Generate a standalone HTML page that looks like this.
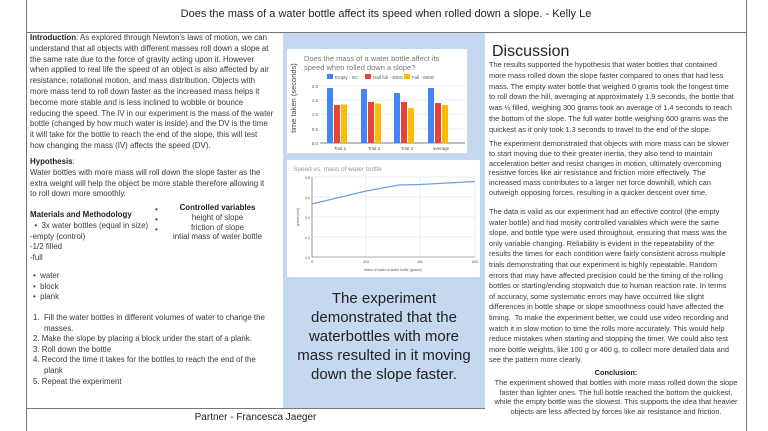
<!DOCTYPE html>
<html><head><meta charset="utf-8"><style>
body{margin:0;width:768px;height:431px;background:#fff;position:relative;overflow:hidden;font-family:"Liberation Sans",sans-serif;color:#333}
.a{position:absolute;white-space:nowrap}
.t{font-size:7.9px;line-height:10.8px;color:#3a3a3a}
.r{font-size:7.4px;line-height:10.8px;color:#3a3a3a}
.line{position:absolute;background:#777}
</style></head><body>
<div class="line" style="left:26px;top:0;width:1px;height:431px"></div>
<div class="line" style="left:746px;top:0;width:1px;height:431px"></div>
<div class="line" style="left:26px;top:32px;width:721px;height:1px"></div>
<div class="line" style="left:26px;top:408px;width:459px;height:1px"></div>
<div class="a" style="left:26px;width:720px;top:8px;text-align:center;font-size:11px;color:#222">Does the mass of a water bottle affect its speed when rolled down a slope. - Kelly Le</div>
<div class="a" style="left:26px;width:459px;top:412px;text-align:center;font-size:10px;color:#222">Partner - Francesca Jaeger</div>

<div class="a t" style="left:30px;top:33px"><b style="color:#222">Introduction</b>: As explored through Newton's laws of motion, we can<br>understand that all objects with different masses roll down a slope at<br>the same rate due to the force of gravity acting upon it. However<br>when applied to real life the speed of an object is also affected by air<br>resistance, rotational motion, and mass distribution. Objects with<br>more mass tend to roll down faster as the increased mass helps it<br>become more stable and is less inclined to wobble or bounce<br>reducing the speed. The IV in our experiment is the mass of the water<br>bottle (changed by how much water is inside) and the DV is the time<br>it will take for the bottle to reach the end of the slope, this will test<br>how changing the mass (IV) affects the speed (DV).</div>
<div class="a t" style="left:30px;top:157px"><b style="color:#222">Hypothesis</b>:<br>Water bottles with more mass will roll down the slope faster as the<br>extra weight will help the object be more stable therefore allowing it<br>to roll down more smoothly.</div>
<div class="a t" style="left:30px;top:210px"><b style="color:#222">Materials and Methodology</b><br>&nbsp;&nbsp;•&nbsp; 3x water bottles (equal in size)<br>-empty (control)<br>-1/2 filled<br>-full</div>
<div class="a t" style="left:155px;top:205px;line-height:9.8px">•<br>•<br>•</div>
<div class="a t" style="left:165px;top:203px;width:105px;text-align:center;line-height:9.8px"><b style="color:#222">Controlled variables</b><br>height of slope<br>friction of slope<br>intial mass of water bottle</div>
<div class="a t" style="left:33px;top:271px;line-height:10.6px">•&nbsp; water<br>•&nbsp; block<br>•&nbsp; plank</div>
<div class="a t" style="left:33px;top:313px;line-height:10.6px">1.&nbsp; Fill the water bottles in different volumes of water to change the<br>&nbsp;&nbsp;&nbsp;&nbsp; masses.<br>2. Make the slope by placing a block under the start of a plank.<br>3. Roll down the bottle<br>4. Record the time it takes for the bottles to reach the end of the<br>&nbsp;&nbsp;&nbsp;&nbsp; plank<br>5. Repeat the experiment</div>

<div style="position:absolute;left:283px;top:33px;width:202px;height:375px;background:#c6d8ef"></div>
<svg style="position:absolute;left:0;top:0" width="768" height="431">
<rect x="287" y="49" width="180" height="104" fill="#fff"/>
<text x="304" y="61" font-size="7.5" fill="#777" font-family="Liberation Sans">Does the mass of a water bottle affect its</text>
<text x="304" y="70" font-size="7.5" fill="#777" font-family="Liberation Sans">speed when rolled down a slope?</text>
<rect x="327" y="74" width="6" height="5" fill="#4285f4"/><text x="335" y="79" font-size="4.5" fill="#555">Empty - 0G</text>
<rect x="365" y="74" width="6" height="5" fill="#ea4335"/><text x="373" y="79" font-size="4.5" fill="#555">Half full - 300G</text>
<rect x="404" y="74" width="6" height="5" fill="#fbbc04"/><text x="412" y="79" font-size="4.5" fill="#555">Full - 600G</text>
<g stroke="#ddd" stroke-width="0.5"><line x1="320" y1="86" x2="465" y2="86"/><line x1="320" y1="100" x2="465" y2="100"/><line x1="320" y1="114" x2="465" y2="114"/><line x1="320" y1="129" x2="465" y2="129"/></g>
<line x1="320" y1="143" x2="465" y2="143" stroke="#555" stroke-width="0.7"/>
<g font-size="4.5" fill="#555" text-anchor="end"><text x="318" y="88">2.0</text><text x="318" y="102">1.5</text><text x="318" y="116">1.0</text><text x="318" y="131">0.5</text><text x="318" y="145">0.0</text></g>
<text transform="translate(296,98) rotate(-90)" font-size="7.5" fill="#444" text-anchor="middle">time taken (seconds)</text>
<g>
<rect x="327" y="88" width="6" height="55" fill="#4285f4"/><rect x="334" y="105" width="6" height="38" fill="#ea4335"/><rect x="341" y="104.5" width="6" height="38.5" fill="#fbbc04"/>
<rect x="361" y="89" width="6" height="54" fill="#4285f4"/><rect x="368" y="102" width="6" height="41" fill="#ea4335"/><rect x="375" y="103.5" width="6" height="39.5" fill="#fbbc04"/>
<rect x="394" y="93" width="6" height="50" fill="#4285f4"/><rect x="401" y="102" width="6" height="41" fill="#ea4335"/><rect x="408" y="108" width="6" height="35" fill="#fbbc04"/>
<rect x="428" y="88" width="6" height="55" fill="#4285f4"/><rect x="435" y="103" width="6" height="40" fill="#ea4335"/><rect x="442" y="105" width="6" height="38" fill="#fbbc04"/>
</g>
<g font-size="4.5" fill="#555" text-anchor="middle"><text x="340" y="150">Trial 1</text><text x="374" y="150">Trial 2</text><text x="407" y="150">Trial 3</text><text x="441" y="150">average</text></g>

<rect x="287" y="160" width="193" height="117" fill="#fff"/>
<text x="293" y="171" font-size="6.5" fill="#999">Speed vs. mass of water bottle</text>
<g stroke="#ddd" stroke-width="0.5"><line x1="312" y1="177" x2="475" y2="177"/><line x1="312" y1="197" x2="475" y2="197"/><line x1="312" y1="217" x2="475" y2="217"/><line x1="312" y1="237" x2="475" y2="237"/><line x1="366" y1="177" x2="366" y2="257"/><line x1="420" y1="177" x2="420" y2="257"/><line x1="475" y1="177" x2="475" y2="257"/></g>
<line x1="312" y1="257" x2="475" y2="257" stroke="#555" stroke-width="0.6"/><line x1="312" y1="177" x2="312" y2="257" stroke="#555" stroke-width="0.6"/>
<g font-size="3.5" fill="#555" text-anchor="end"><text x="310" y="179">0.8</text><text x="310" y="199">0.6</text><text x="310" y="219">0.4</text><text x="310" y="239">0.2</text><text x="310" y="259">0.0</text></g>
<g font-size="3.5" fill="#555" text-anchor="middle"><text x="312" y="263">0</text><text x="366" y="263">200</text><text x="420" y="263">400</text><text x="475" y="263">600</text><text x="393" y="271">Mass of water in water bottle (grams)</text></g>
<text transform="translate(299,217) rotate(-90)" font-size="3.5" fill="#555" text-anchor="middle">speed (m/s)</text>
<polyline points="312,204 366,191 399,185 420,184.5 475,181.5" fill="none" stroke="#6d9eeb" stroke-width="1.2"/>
</svg>
<div class="a" style="left:283px;width:202px;top:289px;text-align:center;font-size:15px;line-height:19px;color:#222">The experiment<br>demonstrated that the<br>waterbottles with more<br>mass resulted in it moving<br>down the slope faster.</div>

<div class="a" style="left:492px;top:43px;font-size:16px;color:#222">Discussion</div>
<div class="a r" style="left:489px;top:60px">The results supported the hypothesis that water bottles that contained<br>more mass rolled down the slope faster compared to ones that had less<br>mass. The empty water bottle that weighed 0 grams took the longest time<br>to roll down the hill, averaging at approximately 1.9 seconds, the bottle that<br>was ½ filled, weighing 300 grams took an average of 1.4 seconds to reach<br>the bottom of the slope. The full water bottle weighing 600 grams was the<br>quickest as it only took 1.3 seconds to travel to the end of the slope.</div>
<div class="a r" style="left:489px;top:139px;line-height:9.8px">The experiment demonstrated that objects with more mass can be slower<br>to start moving due to their greater inertia, they also tend to maintain<br>acceleration better and resist changes in motion, ultimately overcoming<br>resistive forces like air resistance and friction more effectively. The<br>increased mass contributes to a larger net force downhill, which can<br>outweigh opposing forces, resulting in a quicker descent over time.</div>
<div class="a r" style="left:489px;top:207px;line-height:10.6px">The data is valid as our experiment had an effective control (the empty<br>water bottle) and had mosity controlled variables which were the same<br>slope, and bottle type were used throughout, ensuring that mass was the<br>only variable changing. Reliability is evident in the repeatability of the<br>results the times for each condition were fairly consistent across multiple<br>trials demonstrating that our experiment is highly repeatable. Random<br>errors that may have affected precision could be the timing of the rolling<br>bottles or starting/ending stopwatch due to human reaction rate. In terms<br>of accuracy, some systematic errors may have occurred like slight<br>differences in bottle shape or slope smoothness could have affected the<br>timing.&nbsp; To make the experiment better, we could use video recording and<br>watch it in slow motion to time the rolls more accurately. This would help<br>reduce mistakes when starting and stopping the timer. We could also test<br>more bottle weights, like 100 g or 400 g, to collect more detailed data and<br>see the pattern more clearly.</div>
<div class="a r" style="left:485px;width:262px;top:368px;text-align:center;line-height:9.8px"><b style="color:#222">Conclusion:</b><br>The experiment showed that bottles with more mass rolled down the slope<br>faster than lighter ones. The full bottle reached the bottom the quickest,<br>while the empty bottle was the slowest. This supports the idea that heavier<br>objects are less affected by forces like air resistance and friction.</div>
</body></html>
